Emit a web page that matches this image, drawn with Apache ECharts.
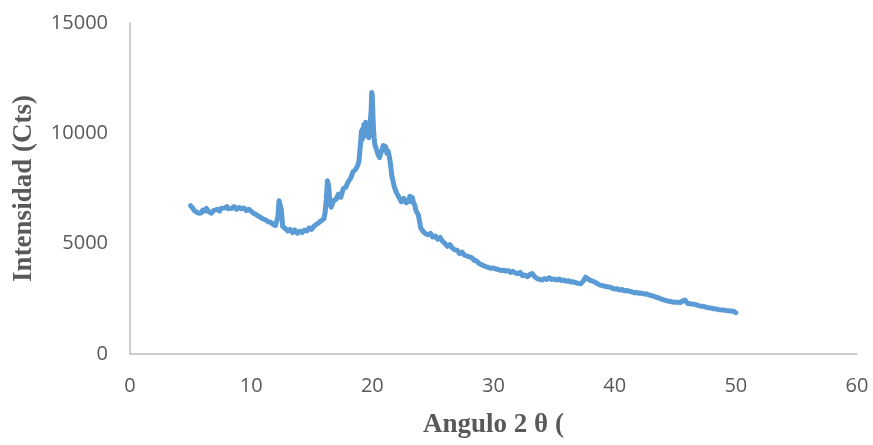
<!DOCTYPE html>
<html>
<head>
<meta charset="utf-8">
<script src="https://cdn.jsdelivr.net/npm/echarts@6/dist/echarts.min.js"></script>
<style>html,body{margin:0;padding:0;background:#fff}#c{width:873px;height:445px}</style>
</head>
<body>
<div id="c"></div>
<script>
var angles = [5.0,5.1,5.2,5.3,5.4,5.5,5.6,5.7,5.8,5.9,6.0,6.1,6.2,6.3,6.4,6.5,6.6,6.7,6.8,6.9,7.0,7.2,7.4,7.5,7.6,7.8,8.0,8.1,8.2,8.4,8.6,8.8,9.0,9.2,9.4,9.6,9.8,10.0,10.2,10.4,10.6,10.8,11.0,11.2,11.4,11.6,11.8,12.0,12.1,12.2,12.3,12.4,12.5,12.6,12.8,13.0,13.2,13.4,13.6,13.8,14.0,14.2,14.4,14.6,14.8,15.0,15.2,15.4,15.6,15.8,16.0,16.1,16.2,16.3,16.4,16.5,16.6,16.8,17.0,17.2,17.4,17.6,17.8,18.0,18.2,18.4,18.6,18.8,18.9,19.0,19.05,19.1,19.15,19.2,19.25,19.3,19.35,19.4,19.45,19.5,19.55,19.6,19.65,19.7,19.75,19.8,19.85,19.9,19.95,20.0,20.05,20.1,20.15,20.2,20.3,20.4,20.5,20.6,20.7,20.8,20.9,21.0,21.1,21.2,21.3,21.4,21.5,21.6,21.8,22.0,22.2,22.4,22.6,22.8,23.0,23.1,23.2,23.3,23.4,23.5,23.6,23.8,24.0,24.2,24.4,24.6,24.8,25.0,25.2,25.4,25.6,25.8,26.0,26.2,26.4,26.6,26.8,27.0,27.2,27.4,27.6,27.8,28.0,28.2,28.4,28.6,28.8,29.0,29.2,29.4,29.6,29.8,30.0,30.2,30.4,30.6,30.8,31.0,31.2,31.4,31.6,31.8,32.0,32.2,32.4,32.6,32.8,33.0,33.2,33.4,33.6,33.8,34.0,34.2,34.4,34.6,34.8,35.0,35.2,35.4,35.6,35.8,36.0,36.2,36.4,36.6,36.8,37.0,37.2,37.4,37.6,37.8,38.0,38.2,38.4,38.6,38.8,39.0,39.2,39.4,39.6,39.8,40.0,40.2,40.4,40.6,40.8,41.0,41.2,41.4,41.6,41.8,42.0,42.2,42.4,42.6,42.8,43.0,43.2,43.4,43.6,43.8,44.0,44.2,44.4,44.6,44.8,45.0,45.2,45.4,45.6,45.8,46.0,46.2,46.4,46.6,46.8,47.0,47.2,47.4,47.6,47.8,48.0,48.2,48.4,48.6,48.8,49.0,49.2,49.4,49.6,49.8,50.0];
var counts = [6720,6640,6600,6500,6560,6420,6480,6380,6450,6400,6520,6440,6480,6600,6650,6450,6420,6380,6400,6500,6470,6560,6480,6600,6520,6620,6680,6580,6650,6600,6680,6560,6640,6580,6620,6500,6560,6470,6380,6320,6250,6180,6110,6080,5990,5970,5880,5820,5750,6200,6950,7000,6500,5780,5700,5580,5650,5500,5620,5470,5560,5500,5620,5580,5720,5650,5800,5880,5960,6050,6120,6400,7000,7850,7600,6800,6650,6950,7000,7250,7100,7500,7550,7800,7950,8250,8350,8550,8750,8800,9700,10100,9700,10200,9800,10400,9900,10300,10500,10000,10450,9900,10350,9800,10200,9900,10700,11000,11850,11700,10800,10200,9800,9500,9350,9300,9000,8900,9100,9250,9450,9300,9400,9100,9200,8950,8600,8100,7600,7300,7100,6900,7050,6850,6950,7150,6900,7100,6850,6750,6500,
6300,5700,5550,5450,5400,5470,5300,5350,5200,5280,
5100,5000,4880,4960,4800,4720,4700,4550,4620,4480,
4450,4400,4370,4250,4220,4100,4050,4000,3950,3920,
3880,3900,3850,3830,3780,3800,3760,3780,3700,3750,
3680,3640,3700,3550,3580,3500,3600,3650,3500,3420,
3380,3350,3420,3380,3460,3380,3400,3350,3400,3330,
3350,3300,3320,3260,3270,3230,3200,3180,3300,3480,
3400,3330,3300,3250,3180,3120,3100,3070,3050,3040,
2980,2950,2960,2900,2920,2860,2880,2840,2820,2780,
2790,2750,2760,2720,2730,2680,2650,2620,2580,2550,
2500,2460,2430,2400,2380,2360,2340,2350,2330,2400,
2450,2300,2280,2260,2250,2220,2180,2160,2150,2110,
2100,2070,2050,2040,2010,2000,1990,1970,1960,1950,
1940,1870];
var xTicks = [0,10,20,30,40,50,60];
var yTicks = [0,5000,10000,15000];
var xTitle = 'Angulo 2 θ (';
var yTitle = 'Intensidad (Cts)';

var pts = angles.map(function(a,i){return [a,counts[i]];});
var chart = echarts.init(document.getElementById('c'), null, {renderer:'canvas'});
var labelStyle = {color:'#595959', fontFamily:'Open Sans', fontSize:20};
var titleStyle = {color:'#595959',fontFamily:'Liberation Serif',fontWeight:'bold',fontSize:27};
chart.setOption({
  animation:false,
  grid:{left:130,right:16,top:23,bottom:91,containLabel:false},
  xAxis:{type:'value',min:xTicks[0],max:xTicks[xTicks.length-1],interval:10,
    name:xTitle,nameLocation:'middle',nameGap:58,nameTextStyle:titleStyle,
    axisLine:{show:true,lineStyle:{color:'#bfbfbf',width:1.5}},
    axisTick:{show:false},splitLine:{show:false},
    axisLabel:Object.assign({margin:22,formatter:function(v){return String(v);}},labelStyle)},
  yAxis:{type:'value',min:yTicks[0],max:yTicks[yTicks.length-1],interval:5000,
    name:yTitle,nameLocation:'middle',nameGap:92,nameRotate:90,nameTextStyle:titleStyle,
    axisLine:{show:true,lineStyle:{color:'#bfbfbf',width:1.5}},
    axisTick:{show:false},splitLine:{show:false},
    axisLabel:Object.assign({margin:22,formatter:function(v){return String(v);}},labelStyle)},
  series:[{type:'line',data:pts,showSymbol:false,symbol:'none',
    lineStyle:{color:'#5B9BD5',width:5,join:'round',cap:'round'}}]
});
</script>
</body>
</html>
